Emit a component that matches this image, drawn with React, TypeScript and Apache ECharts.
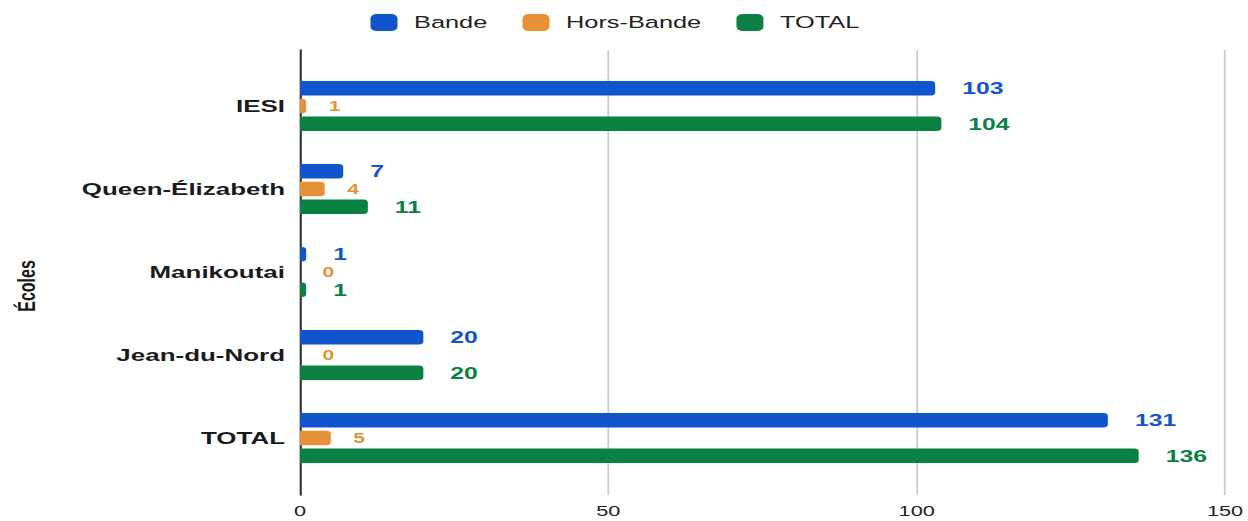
import React, { useEffect, useRef } from "react";
import * as echarts from "echarts";

const categories = ["IESI", "Queen-Élizabeth", "Manikoutai", "Jean-du-Nord", "TOTAL"];
const bande = [103, 7, 1, 20, 131];
const horsBande = [1, 4, 0, 0, 5];
const total = [104, 11, 1, 20, 136];
const seriesNames = ["Bande", "Hors-Bande", "TOTAL"];
const colors = ["#1155cc", "#e69138", "#0b8043"];

const FONT = "'Liberation Sans', Arial, sans-serif";
const SX = 1.5;
const W = 1248 / SX;
const H = 521;

export default function App() {
  const ref = useRef<HTMLDivElement>(null);
  useEffect(() => {
    document.body.style.margin = "0";
    const chart = echarts.init(ref.current!, null, { renderer: "svg" });
    const mk = (name: string, data: number[], color: string, fs: number, dist: number) => ({
      type: "bar",
      name,
      data,
      xAxisIndex: 1,
      yAxisIndex: 1,
      barWidth: 14.5,
      barGap: "23%",
      itemStyle: { color, borderRadius: [0, 3, 3, 0] },
      label: {
        show: true,
        position: "right",
        distance: dist,
        color,
        fontFamily: FONT,
        fontWeight: "bold",
        fontSize: fs,
      },
    });
    chart.setOption({
      animation: false,
      legend: {
        data: seriesNames,
        left: 242,
        top: 9,
        itemWidth: 18,
        itemHeight: 17,
        itemGap: 23.5,
        icon: "roundRect",
        textStyle: { fontFamily: FONT, fontSize: 16.9, color: "#222", padding: [0, 0, 0, 6] },
      },
      grid: [
        { left: 200, right: 15.3, top: 50, bottom: 26 },
        { left: 200, right: 15.3, top: 64.5, bottom: 41.5 },
      ],
      xAxis: [
        {
          gridIndex: 0,
          type: "value",
          min: 0,
          max: 150,
          interval: 50,
          axisLine: { show: false },
          axisTick: { show: false },
          axisLabel: { fontFamily: FONT, fontSize: 14.5, color: "#222", margin: 8 },
          splitLine: { lineStyle: { color: "#cccccc", width: 1.2 } },
        },
        { gridIndex: 1, type: "value", min: 0, max: 150, show: false },
      ],
      yAxis: [
        {
          gridIndex: 0,
          type: "value",
          axisLine: { show: true, lineStyle: { color: "#333", width: 1.4 } },
          axisTick: { show: false },
          axisLabel: { show: false },
          splitLine: { show: false },
        },
        {
          gridIndex: 1,
          type: "category",
          inverse: true,
          data: categories,
          axisLine: { show: false },
          axisTick: { show: false },
          axisLabel: {
            fontFamily: FONT,
            fontSize: 17.3,
            fontWeight: "bold",
            color: "#1a1a1a",
            margin: 10,
          },
        },
      ],
      graphic: [
        {
          type: "text",
          x: 18,
          y: 286,
          rotation: Math.PI / 2,
          style: {
            text: "Écoles",
            fontFamily: FONT,
            fontSize: 16,
            fontWeight: "bold",
            fill: "#1a1a1a",
            align: "center",
            verticalAlign: "middle",
          },
        },
      ],
      series: [
        mk(seriesNames[0], bande, colors[0], 16.5, 18),
        mk(seriesNames[1], horsBande, colors[1], 14, 15),
        mk(seriesNames[2], total, colors[2], 16.5, 18),
      ],
    });
    return () => chart.dispose();
  }, []);
  return (
    <div style={{ position: "absolute", left: 0, top: 0, width: 1248, height: H, overflow: "hidden", background: "#fff" }}>
      <div
        ref={ref}
        style={{ width: W, height: H, transform: `scaleX(${SX})`, transformOrigin: "0 0" }}
      />
    </div>
  );
}
